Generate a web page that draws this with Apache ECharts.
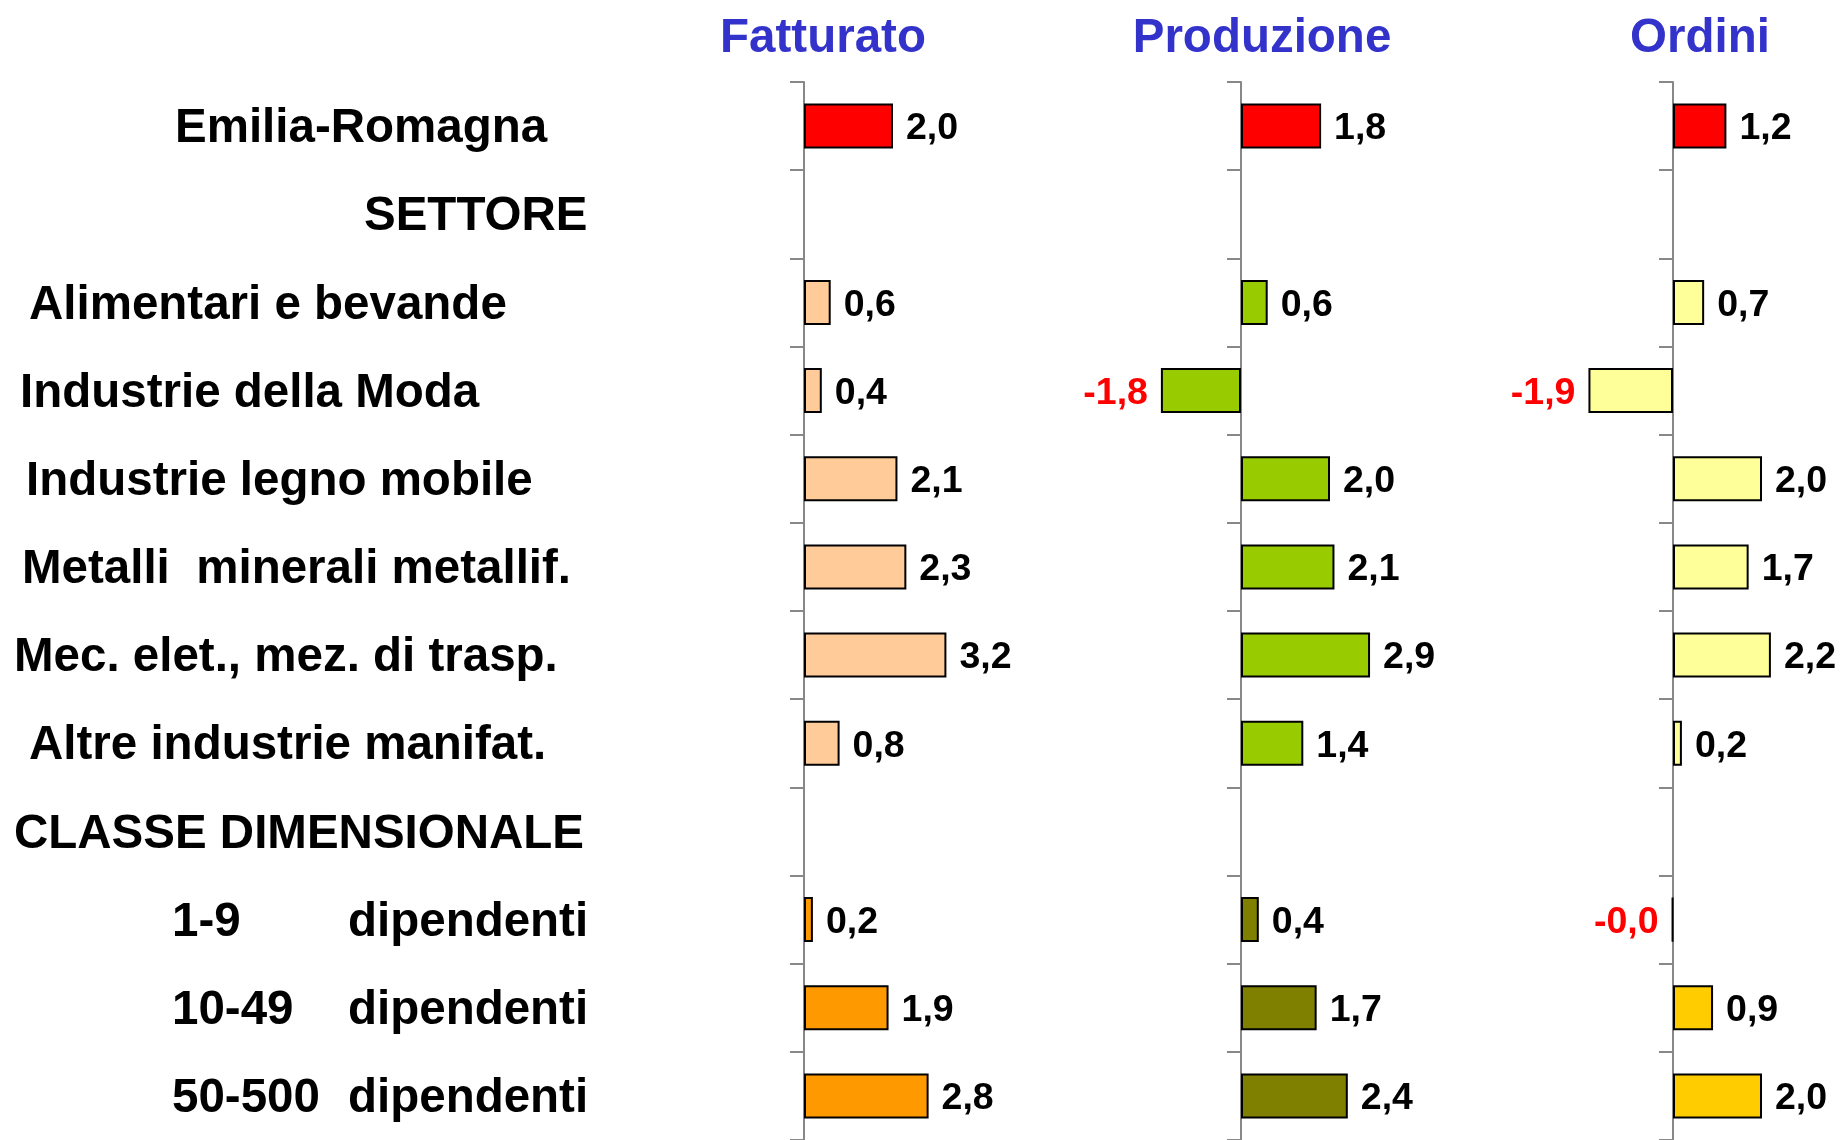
<!DOCTYPE html>
<html>
<head>
<meta charset="utf-8">
<script src="https://cdn.jsdelivr.net/npm/echarts@6/dist/echarts.min.js"></script>
<style>
  html, body { margin: 0; padding: 0; background: #fff; }
  #chart { width: 1845px; height: 1140px; }
</style>
</head>
<body>
<div id="chart"></div>
<script>
// categories, top to bottom
var categories = [
  'Emilia-Romagna',
  'SETTORE',
  'Alimentari e bevande',
  'Industrie della Moda',
  'Industrie legno mobile',
  'Metalli  minerali metallif.',
  'Mec. elet., mez. di trasp.',
  'Altre industrie manifat.',
  'CLASSE DIMENSIONALE',
  '1-9 dipendenti',
  '10-49 dipendenti',
  '50-500 dipendenti'
];
// tot = region, hdr = section heading (no bar), set = sector, cls = size class
var rowGroup = ['tot', 'hdr', 'set', 'set', 'set', 'set', 'set', 'set', 'hdr', 'cls', 'cls', 'cls'];

var titles = ['Fatturato', 'Produzione', 'Ordini'];
var fatturato  = [2.0, null, 0.6,  0.4, 2.1, 2.3, 3.2, 0.8, null,  0.2,  1.9, 2.8];
var produzione = [1.8, null, 0.6, -1.8, 2.0, 2.1, 2.9, 1.4, null,  0.4,  1.7, 2.4];
var ordini     = [1.2, null, 0.7, -1.9, 2.0, 1.7, 2.2, 0.2, null, -0.02, 0.9, 2.0];

// layout / style
var palettes = [
  { tot: '#FF0000', set: '#FFCC99', cls: '#FF9900' },
  { tot: '#FF0000', set: '#99CC00', cls: '#808000' },
  { tot: '#FF0000', set: '#FFFF99', cls: '#FFCC00' }
];
var labelIndent = [175, 364, 29, 20, 26, 22, 14, 29, 14, 172, 172, 172];
var FONT = "'Liberation Sans', Arial, Helvetica, sans-serif";
var UNIT = 44.5;          // px per unit of value
var TOP = 82;
var axisX = [804, 1241, 1673];
var ranges = [[0, 4], [-3, 3], [-3, 3]];
var titleX = [823, 1262, 1700];

var chart = echarts.init(document.getElementById('chart'));

var seriesValues = [fatturato, produzione, ordini];
var grids = [], xAxes = [], yAxes = [], series = [], titleOpts = [];

var rich = {
  t: { fontSize: 47.5, fontWeight: 'bold', fontFamily: FONT, color: '#000', padding: [6, 0, 0, 0] },
  n: { fontSize: 47.5, fontWeight: 'bold', fontFamily: FONT, color: '#000', width: 176, padding: [6, 0, 0, 0] }
};
labelIndent.forEach(function (w, i) {
  rich['s' + i] = { width: w, fontSize: 47.5 };
});

function fmt(v) {
  return v.toFixed(1).replace('.', ',');
}

seriesValues.forEach(function (vals, k) {
  var left = axisX[k] + ranges[k][0] * UNIT;
  grids.push({
    left: left, width: (ranges[k][1] - ranges[k][0]) * UNIT, top: TOP, bottom: 0,
    containLabel: false, outerBoundsMode: 'none'
  });
  xAxes.push({
    type: 'value', gridIndex: k, min: ranges[k][0], max: ranges[k][1],
    show: false, splitLine: { show: false }
  });
  var y = {
    type: 'category', gridIndex: k, data: categories, inverse: true,
    axisLine: { show: true, onZero: true, lineStyle: { color: '#888', width: 2 } },
    axisTick: { show: true, length: 14, lineStyle: { color: '#888', width: 2 } },
    axisLabel: { show: false }
  };
  if (k === 0) {
    y.axisLabel = {
      show: true, interval: 0, align: 'left', margin: axisX[0],
      fontSize: 47.5, fontWeight: 'bold', fontFamily: FONT, color: '#000',
      rich: rich,
      formatter: function (value, index) {
        var sp = '{s' + index + '| }';
        if (rowGroup[index] === 'cls') {
          var cut = value.indexOf(' ');
          return sp + '{n|' + value.slice(0, cut) + '}{t|' + value.slice(cut + 1) + '}';
        }
        return sp + '{t|' + value + '}';
      }
    };
  }
  yAxes.push(y);

  series.push({
    type: 'bar', xAxisIndex: k, yAxisIndex: k, barWidth: 45,
    data: vals.map(function (v, i) {
      if (v === null) return null;
      var neg = v < 0;
      return {
        value: v,
        itemStyle: { color: palettes[k][rowGroup[i]] },
        label: { position: neg ? 'left' : 'right', color: neg ? '#FF0000' : '#000' }
      };
    }),
    itemStyle: { borderColor: '#000', borderWidth: 2 },
    label: {
      show: true, distance: 13, offset: [0, 3], fontSize: 37.5, fontWeight: 'bold', fontFamily: FONT,
      formatter: function (p) { return fmt(p.value); }
    }
  });

  titleOpts.push({
    text: titles[k], left: titleX[k], top: 15, padding: 0, textAlign: 'center',
    textStyle: { color: '#3333CC', fontSize: 47.5, fontWeight: 'bold', fontFamily: FONT }
  });
});

chart.setOption({
  backgroundColor: '#fff',
  animation: false,
  title: titleOpts,
  grid: grids,
  xAxis: xAxes,
  yAxis: yAxes,
  series: series
});
</script>
</body>
</html>
